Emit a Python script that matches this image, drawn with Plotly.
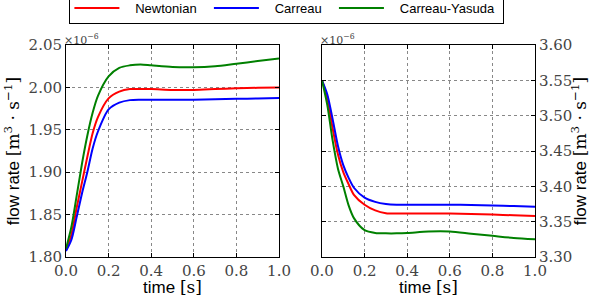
import plotly.graph_objects as go

# time samples [s]
t = [0, 0.025, 0.05, 0.075, 0.1, 0.125, 0.15, 0.2, 0.25, 0.3, 0.35, 0.4,
     0.5, 0.6, 0.7, 0.8, 0.9, 1.0]

# left panel (units of 1e-6 m^3/s)
left_newtonian = [1.808, 1.826, 1.858, 1.888, 1.918, 1.946, 1.965, 1.987, 1.995,
                  1.998, 1.998, 1.998, 1.997, 1.997, 1.998, 1.999, 1.9995, 2.000]
left_carreau = [1.807, 1.820, 1.847, 1.875, 1.900, 1.928, 1.948, 1.974, 1.982,
                1.985, 1.9855, 1.9855, 1.9855, 1.9855, 1.986, 1.9865, 1.987, 1.9875]
left_yasuda = [1.810, 1.835, 1.872, 1.910, 1.943, 1.970, 1.990, 2.013, 2.023,
               2.026, 2.027, 2.026, 2.024, 2.0237, 2.025, 2.028, 2.031, 2.034]

# right panel (units of 1e-6 m^3/s)
right_newtonian = [3.550, 3.525, 3.482, 3.445, 3.420, 3.403, 3.388, 3.374, 3.366,
                   3.362, 3.3615, 3.3615, 3.3615, 3.3615, 3.361, 3.360, 3.359, 3.358]
right_carreau = [3.550, 3.530, 3.495, 3.457, 3.430, 3.412, 3.398, 3.384, 3.378,
                 3.375, 3.374, 3.374, 3.374, 3.374, 3.3735, 3.373, 3.372, 3.371]
right_yasuda = [3.550, 3.515, 3.465, 3.425, 3.400, 3.373, 3.355, 3.338, 3.334,
                3.3335, 3.3335, 3.334, 3.336, 3.336, 3.333, 3.330, 3.327, 3.325]

names = ["Newtonian", "Carreau", "Carreau-Yasuda"]
colors = ["#ff0000", "#0000ff", "#008000"]

x_ticks = [0.0, 0.2, 0.4, 0.6, 0.8, 1.0]
left_ticks = [1.80, 1.85, 1.90, 1.95, 2.00, 2.05]
right_ticks = [3.30, 3.35, 3.40, 3.45, 3.50, 3.55, 3.60]

SERIF = "DejaVu Serif"
SANS = "Liberation Sans"
NB = "\u00a0"

fig = go.Figure()
for i, (name, col, ly, ry) in enumerate(zip(names, colors,
                                            [left_newtonian, left_carreau, left_yasuda],
                                            [right_newtonian, right_carreau, right_yasuda])):
    label = NB * 3 + name + (NB * 2 if i < 2 else NB)
    fig.add_trace(go.Scatter(x=t, y=ly, mode="lines", name=label,
                             line=dict(color=col, width=2, shape="spline", smoothing=0.8),
                             xaxis="x", yaxis="y", legendgroup=name))
    fig.add_trace(go.Scatter(x=t, y=ry, mode="lines", name=name, showlegend=False,
                             line=dict(color=col, width=2, shape="spline", smoothing=0.8),
                             xaxis="x2", yaxis="y2", legendgroup=name))

ylabel = ("flow rate <span style='font-family:%s'>[m<sup>3</sup> · s<sup>−1</sup>]</span>" % SERIF)
xlabel = "time <span style='font-family:%s'>[s]</span>" % SERIF

common_axis = dict(showline=True, linecolor="black", linewidth=1, mirror="ticks",
                   ticks="inside", ticklen=4, tickcolor="black",
                   showgrid=True, gridcolor="#888888", griddash="dot", gridwidth=1,
                   zeroline=False, automargin=False,
                   tickfont=dict(family=SERIF, size=15, color="#444444"))

fig.update_layout(
    width=590, height=297,
    margin=dict(l=66, r=55, t=45, b=40, autoexpand=False),
    paper_bgcolor="white", plot_bgcolor="white",
    showlegend=True,
    legend=dict(orientation="h", x=0.471, xanchor="center", y=1.25, yanchor="top",
                bordercolor="black", borderwidth=1, bgcolor="white",
                font=dict(family=SANS, size=13, color="black"),
                itemwidth=45),
    xaxis=dict(domain=[0, 0.4542], range=[0, 1], tickvals=x_ticks,
               ticktext=["%.1f" % v for v in x_ticks],
               title=dict(text=xlabel, font=dict(family=SANS, size=17, color="black"), standoff=2),
               anchor="y", **common_axis),
    yaxis=dict(domain=[0, 1], range=[1.80, 2.05], tickvals=left_ticks,
               ticktext=["%.2f" % v for v in left_ticks],
               title=dict(text=ylabel, font=dict(family=SANS, size=17, color="black"), standoff=4),
               anchor="x", **common_axis),
    xaxis2=dict(domain=[0.5458, 1], range=[0, 1], tickvals=x_ticks,
                ticktext=["%.1f" % v for v in x_ticks],
                title=dict(text=xlabel, font=dict(family=SANS, size=17, color="black"), standoff=2),
                anchor="y2", **common_axis),
    yaxis2=dict(domain=[0, 1], range=[3.30, 3.60], tickvals=right_ticks,
                ticktext=["%.2f" % v for v in right_ticks], side="right",
                title=dict(text=ylabel, font=dict(family=SANS, size=17, color="black"), standoff=4),
                anchor="x2", **common_axis),
)

for xr, yr in [("x domain", "y domain"), ("x2 domain", "y2 domain")]:
    fig.add_annotation(x=0, y=1, xref=xr, yref=yr,
                       text="×10<sup>−6</sup>", showarrow=False, xanchor="left", yanchor="bottom",
                       font=dict(family=SERIF, size=11, color="#444444"), xshift=-4, yshift=-4)

fig.write_html("out.html", config={"displayModeBar": False},
               post_script="document.body.style.margin='0';document.body.style.overflow='hidden';")
